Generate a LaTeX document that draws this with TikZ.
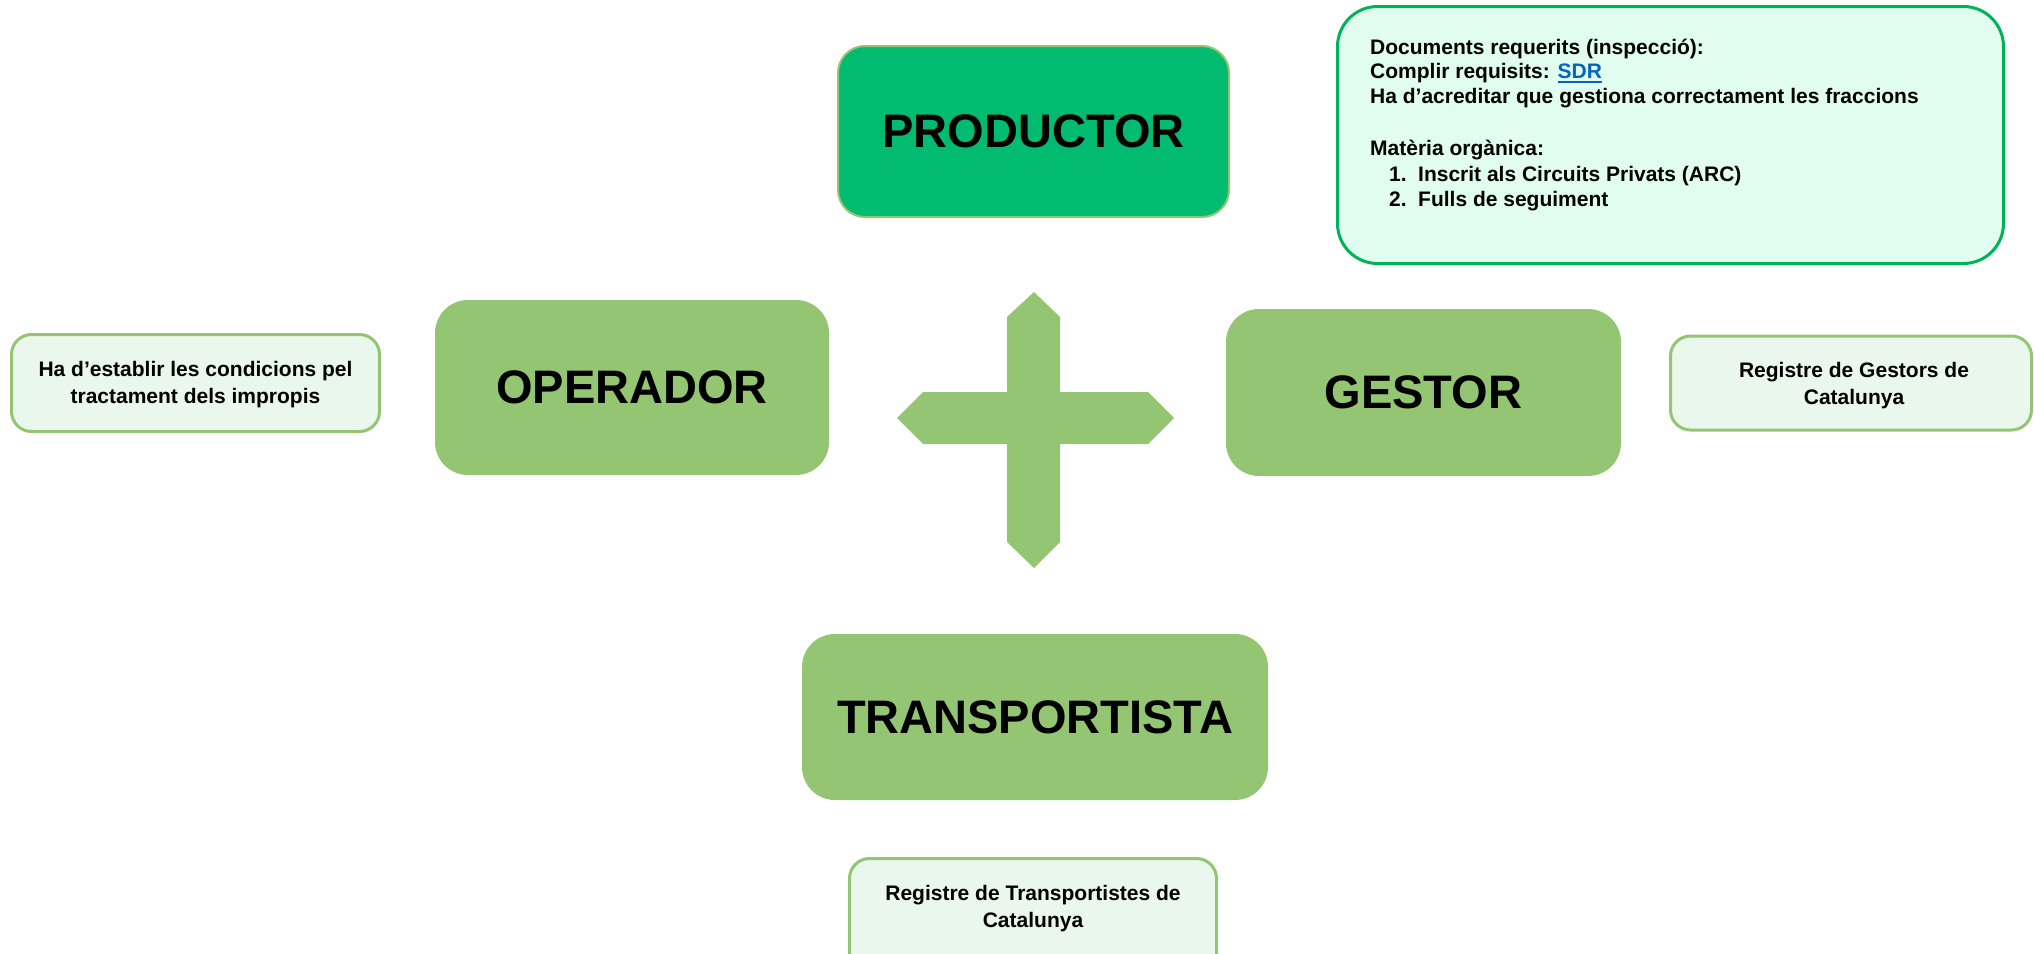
\documentclass[tikz,border=0pt]{standalone}
\usepackage{fontspec}
\setmainfont{Liberation Sans}
\definecolor{mgreen}{RGB}{147,197,114}
\definecolor{pfill}{RGB}{0,187,112}
\definecolor{nfill}{RGB}{234,247,236}
\definecolor{tfill}{RGB}{224,253,240}
\definecolor{tgreen}{RGB}{0,178,90}
\definecolor{linkblue}{RGB}{5,99,193}
\newcommand\myul[1]{\setbox0\hbox{#1}\rlap{\rule[-4.5pt]{\wd0}{2pt}}\box0}
\begin{document}
\begin{tikzpicture}[x=1pt,y=-1pt,
  bigbox/.style={fill=mgreen, rounded corners=33pt, inner sep=0pt,
    font=\fontsize{47}{56}\selectfont\bfseries},
  notebox/.style={fill=nfill, draw=mgreen, line width=3pt, rounded corners=20pt, inner sep=0pt},
  notetext/.style={align=center, inner sep=0pt, font=\fontsize{21}{27}\selectfont\bfseries},
  listline/.style={anchor=base west, inner sep=0pt,
    font=\fontsize{21}{25}\selectfont\bfseries}
]
\useasboundingbox (0,0) rectangle (2034,953);
\clip (0,0) rectangle (2034,953);

% main boxes
\node[bigbox, fill=pfill, draw=mgreen, line width=2pt, rounded corners=27pt,
  minimum width=391pt, minimum height=171pt] (prod) at (1033.5,131.5) {PRODUCTOR};
\node[bigbox, minimum width=394pt, minimum height=175pt] (oper) at (632,387.5) {OPERADOR};
\node[bigbox, minimum width=395pt, minimum height=167pt] (gest) at (1423.5,392.5) {GESTOR};
\node[bigbox, minimum width=466pt, minimum height=166pt] (trans) at (1035,717) {TRANSPORTISTA};

% cross
\fill[mgreen] (1034,292) -- (1060,317) -- (1060,392) -- (1148,392) -- (1174,418)
  -- (1148,444) -- (1060,444) -- (1060,542) -- (1034,568) -- (1007,542)
  -- (1007,444) -- (923,444) -- (897,418) -- (923,392) -- (1007,392)
  -- (1007,317) -- cycle;

% note boxes
\node[notebox, minimum width=368pt, minimum height=97pt] (opnote) at (195.5,383) {};
\node[notetext] (opnotetxt) at (195.5,385) {Ha d’establir les condicions pel\\tractament dels impropis};

\node[notebox, minimum width=361pt, minimum height=94pt] (gsnote) at (1851,383) {};
\node[notetext] (gsnotetxt) at (1854,386) {Registre de Gestors de\\Catalunya};

\node[notebox, minimum width=367pt, minimum height=140pt] (trnote) at (1033,928.5) {};
\node[notetext] (trnotetxt) at (1033,909) {Registre de Transportistes de\\Catalunya};

% top right box
\node[fill=tfill, draw=tgreen, line width=3pt, rounded corners=40pt, inner sep=0pt,
  minimum width=666pt, minimum height=257pt] (prnote) at (1670.5,135) {};
\node[listline] (l1) at (1370,54) {Documents requerits (inspecció):};
\node[listline] (l2) at (1370,78.5) {Complir requisits: {\color{linkblue}\myul{SDR}}};
\node[listline] (l3) at (1370,103) {Ha d’acreditar que gestiona correctament les fraccions};
\node[listline] (l4) at (1370,155.5) {Matèria orgànica:};
\node[listline] (l5) at (1389,181) {\makebox[29pt][l]{1.}Inscrit als Circuits Privats (ARC)};
\node[listline] (l6) at (1389,206.5) {\makebox[29pt][l]{2.}Fulls de seguiment};
\end{tikzpicture}
\end{document}
